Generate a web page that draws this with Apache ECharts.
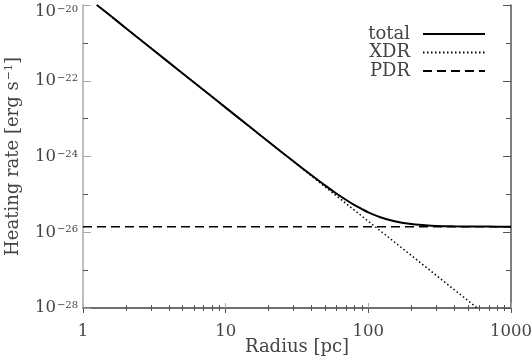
<!DOCTYPE html>
<html>
<head>
<meta charset="utf-8">
<script src="https://cdn.jsdelivr.net/npm/echarts@6/dist/echarts.min.js"></script>
<style>
  html, body { margin: 0; padding: 0; background: #fff; }
  #chart { width: 532px; height: 360px; }
</style>
</head>
<body>
<div id="chart"></div>
<script>
// values
var totalR = [1.25, 1.6, 2, 3, 5, 7, 10, 15, 20, 30, 40, 50, 60, 70, 80, 90, 100, 120, 150, 200, 250, 300, 400, 500, 700, 1000];
var totalHeat = [1.0e-20, 4.8e-21, 2.44e-21, 7.2e-22, 1.56e-22, 5.7e-23, 1.95e-23, 5.8e-24, 2.45e-24, 7.35e-25, 3.2e-25, 1.7e-25, 1.04e-25, 7.1e-26, 5.2e-26, 4.1e-26, 3.35e-26, 2.53e-26, 1.98e-26, 1.64e-26, 1.53e-26, 1.47e-26, 1.43e-26, 1.42e-26, 1.41e-26, 1.4e-26];
var xdrR = [1.25, 10, 100, 580];
var xdrHeat = [1.0e-20, 1.95e-23, 1.95e-26, 1.0e-28];
var pdrR = [1, 1000];
var pdrHeat = [1.4e-26, 1.4e-26];

var xMajor = [1, 10, 100, 1000];
var xMinor = [2, 3, 4, 5, 6, 7, 8, 9, 20, 30, 40, 50, 60, 70, 80, 90, 200, 300, 400, 500, 600, 700, 800, 900];
var yMajor = [1e-28, 1e-26, 1e-24, 1e-22, 1e-20];
var yMinor = [1e-27, 1e-25, 1e-23, 1e-21];

function zip(a, b) {
    return a.map(function (v, i) { return [v, b[i]]; });
}

var font = 'DejaVu Serif';
var txt = '#444';
var light = '#a8a8a8';
var dark = '#555';

function yLabel(v) {
    var e = Math.round(Math.log10(v));
    // top label is pushed down to stay inside the picture
    if (e === -20) return '{bt|10}{st|\u2212' + Math.abs(e) + '}';
    return '{b|10}{s|\u2212' + Math.abs(e) + '}';
}

var labelRich = {
    b: { fontSize: 16.5, fontFamily: font, color: txt },
    s: { fontSize: 10, fontFamily: font, color: txt, padding: [0, 0, 5, 1] },
    bt: { fontSize: 16.5, fontFamily: font, color: txt, padding: [14, 0, 0, 0] },
    st: { fontSize: 10, fontFamily: font, color: txt, padding: [12, 0, 3, 1] }
};

function xAx(pos, ticks, len, color, extra) {
    return Object.assign({
        type: 'log', logBase: 10, min: 1, max: 1000, position: pos,
        axisLine: { show: color != null, lineStyle: { color: color || light, width: 1.5 } },
        axisTick: { inside: true, length: len, customValues: ticks, lineStyle: { color: color || dark } },
        axisLabel: { show: false },
        splitLine: { show: false }
    }, extra || {});
}

function yAx(pos, ticks, len, color, extra) {
    return Object.assign({
        type: 'log', logBase: 10, min: 1e-28, max: 1e-20, position: pos,
        axisLine: { show: color != null, lineStyle: { color: color || light, width: 1.5 } },
        axisTick: { inside: true, length: len, customValues: ticks, lineStyle: { color: color || dark } },
        axisLabel: { show: false },
        splitLine: { show: false }
    }, extra || {});
}

var chart = echarts.init(document.getElementById('chart'));
chart.setOption({
    backgroundColor: '#fff',
    animation: false,
    grid: { left: 83, right: 21, top: 5, bottom: 52, containLabel: false, outerBoundsMode: 'none' },
    legend: {
        orient: 'vertical',
        right: 41,
        top: 20,
        align: 'right',
        itemWidth: 62,
        itemHeight: 14,
        itemGap: 0.5,
        itemStyle: { color: 'rgba(0,0,0,0)', borderWidth: 0, opacity: 0 },
        textStyle: { fontSize: 18, lineHeight: 18, fontFamily: font, color: txt, padding: [0, 8, 0, 0] },
        data: ['total', 'XDR', 'PDR']
    },
    xAxis: [
        xAx('bottom', xMajor, 5, light, {
            axisLabel: {
                show: true, customValues: xMajor, fontSize: 16.5, fontFamily: font, color: txt, margin: 15,
                formatter: function (v) { return String(Math.round(v)); }
            },
            name: 'Radius [pc]',
            nameLocation: 'middle',
            nameGap: 30,
            nameMoveOverlap: false,
            nameTextStyle: { fontSize: 18, fontFamily: font, color: txt }
        }),
        xAx('bottom', xMinor, 3, null),
        xAx('top', xMajor, 5, dark),
        xAx('top', xMinor, 3, null)
    ],
    yAxis: [
        yAx('left', yMajor, 8, light, {
            axisLabel: { show: true, customValues: yMajor, formatter: yLabel, margin: 5, rich: labelRich },
            name: '{n|Heating rate [erg s}{s|\u22121}{n|]}',
            nameLocation: 'middle',
            nameGap: 61,
            nameMoveOverlap: false,
            nameTextStyle: {
                rich: {
                    n: { fontSize: 18, fontFamily: font, color: txt },
                    s: { fontSize: 11, fontFamily: font, color: txt, padding: [0, 0, 7, 1] }
                }
            }
        }),
        yAx('left', yMinor, 5, null),
        yAx('right', yMajor, 8, dark),
        yAx('right', yMinor, 5, null)
    ],
    series: [
        {
            name: 'total', type: 'line', xAxisIndex: 0, yAxisIndex: 0,
            data: zip(totalR, totalHeat), showSymbol: false, symbol: 'none', smooth: 0.3,
            lineStyle: { color: '#000', width: 2 }, itemStyle: { color: '#000' }
        },
        {
            name: 'XDR', type: 'line', xAxisIndex: 0, yAxisIndex: 0,
            data: zip(xdrR, xdrHeat), showSymbol: false, symbol: 'none',
            lineStyle: { color: '#000', width: 1.5, type: [1.5, 2.5] }, itemStyle: { color: '#000' }
        },
        {
            name: 'PDR', type: 'line', xAxisIndex: 0, yAxisIndex: 0,
            data: zip(pdrR, pdrHeat), showSymbol: false, symbol: 'none',
            lineStyle: { color: '#000', width: 1.5, type: [9, 5] }, itemStyle: { color: '#000' }
        }
    ]
});
</script>
</body>
</html>
